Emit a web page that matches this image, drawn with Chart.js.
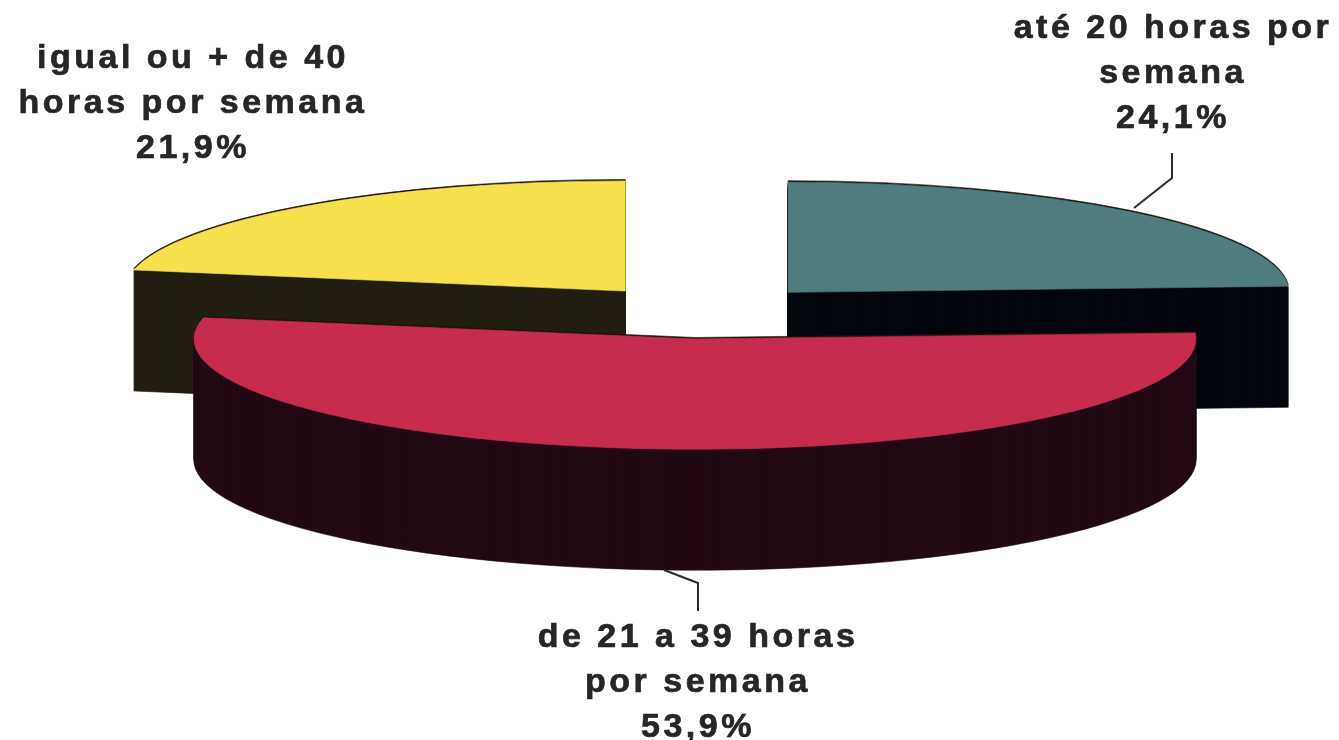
<!DOCTYPE html>
<html lang="pt">
<head>
    <meta charset="UTF-8">
    <title>Horas por semana</title>
    <script src="https://cdn.jsdelivr.net/npm/chart.js"></script>
    <style>
        html, body { margin: 0; padding: 0; background: #fff; overflow: hidden; }
        canvas { display: block; filter: blur(0.5px); }
    </style>
</head>
<body>
    <canvas id="pie" width="1339" height="740"></canvas>

    <script>
        const categories = ['até 20 horas por semana', 'de 21 a 39 horas por semana', 'igual ou + de 40 horas por semana'];
        const values = [24.1, 53.9, 21.9];
        const labelLines = [
            ['até 20 horas por', 'semana'],
            ['de 21 a 39 horas', 'por semana'],
            ['igual ou + de 40', 'horas por semana']
        ];

        const faceColors = ['#4f7c7c', '#c72c4e', '#f6e04e'];
        const sideColors = ['#03070d', '#220a14', '#221e11'];

        // fake 3D look: pie is squashed, pushed out and extruded downwards
        const tilt = 0.22;
        const explode = 123;
        const depth = 121;

        const labelX = [1173, 698, 193];
        const labelY = [38, 647, 68];
        const lineGap = 45;
        const leaders = [
            [[1172, 153], [1172, 178], [1134, 208]],
            [[664, 570], [698, 583], [698, 611]]
        ];

        function drawSlice(ctx, arc, color, shiftY) {
            const mid = (arc.startAngle + arc.endAngle) / 2;
            const saved = arc.options;
            arc.options = { ...saved, backgroundColor: color, borderColor: color, borderWidth: 1 };
            ctx.save();
            ctx.translate(arc.x + Math.cos(mid) * explode, arc.y + Math.sin(mid) * explode * tilt + shiftY);
            ctx.scale(1, tilt);
            ctx.translate(-arc.x, -arc.y);
            arc.draw(ctx);
            ctx.restore();
            arc.options = saved;
        }

        const pie3d = {
            id: 'pie3d',
            beforeDatasetsDraw(chart) {
                const ctx = chart.ctx;
                const arcs = chart.getDatasetMeta(0).data.map((arc, i) => ({ arc, i }));
                // back slices first so the big one sits in front
                arcs.sort((a, b) => Math.sin((a.arc.startAngle + a.arc.endAngle) / 2) - Math.sin((b.arc.startAngle + b.arc.endAngle) / 2));
                arcs.forEach(({ arc, i }) => {
                    for (let d = depth; d > 0; d--) {
                        drawSlice(ctx, arc, sideColors[i], d);
                    }
                    drawSlice(ctx, arc, '#1a1410', -1.5);
                    drawSlice(ctx, arc, faceColors[i], 0);
                });
                return false;
            },
            afterDraw(chart) {
                const ctx = chart.ctx;
                ctx.save();
                ctx.strokeStyle = '#2b2b2b';
                ctx.lineWidth = 2;
                leaders.forEach(points => {
                    ctx.beginPath();
                    points.forEach(([x, y], i) => i ? ctx.lineTo(x, y) : ctx.moveTo(x, y));
                    ctx.stroke();
                });
                ctx.fillStyle = '#262626';
                ctx.strokeStyle = '#262626';
                ctx.lineWidth = 0.7;
                ctx.font = 'bold 34px "Liberation Sans"';
                ctx.letterSpacing = '3.5px';
                ctx.textAlign = 'center';
                labelLines.forEach((lines, i) => {
                    const text = [...lines, values[i].toFixed(1).replace('.', ',') + '%'];
                    text.forEach((line, n) => {
                        ctx.fillText(line, labelX[i], labelY[i] + n * lineGap);
                        ctx.strokeText(line, labelX[i], labelY[i] + n * lineGap);
                    });
                });
                ctx.restore();
            }
        };

        new Chart(document.getElementById('pie'), {
            type: 'pie',
            data: {
                labels: categories,
                datasets: [{
                    data: values,
                    backgroundColor: faceColors,
                    borderWidth: 0
                }]
            },
            options: {
                responsive: false,
                animation: false,
                radius: 501,
                layout: { padding: { left: 68, bottom: 116 } },
                plugins: {
                    legend: { display: false },
                    tooltip: { enabled: false }
                }
            },
            plugins: [pie3d]
        });
    </script>
</body>
</html>
